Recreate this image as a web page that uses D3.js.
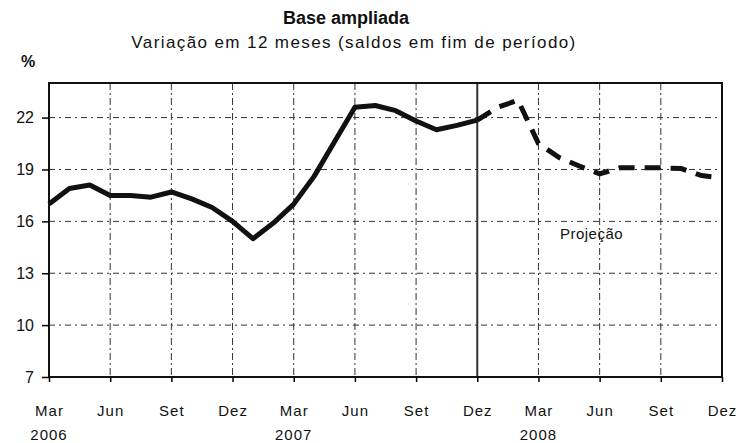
<!DOCTYPE html>
<html>
<head>
<meta charset="utf-8">
<script src="https://cdn.jsdelivr.net/npm/d3@7"></script>
<style>
  body { margin: 0; background: #fff; }
  svg { font-family: "Liberation Sans", Arial, sans-serif; }
</style>
</head>
<body>
<div id="chart"></div>
<script>
// months from Mar 2006 to Dez 2008
var months = ['Mar06','Abr06','Mai06','Jun06','Jul06','Ago06','Set06','Out06','Nov06','Dez06',
  'Jan07','Fev07','Mar07','Abr07','Mai07','Jun07','Jul07','Ago07','Set07','Out07','Nov07','Dez07',
  'Jan08','Fev08','Mar08','Abr08','Mai08','Jun08','Jul08','Ago08','Set08','Out08','Nov08','Dez08']

// realizado (Mar 2006 - Dez 2007)
var realizado = [17.0, 17.9, 18.1, 17.5, 17.5, 17.4, 17.7, 17.3, 16.8, 16.0,
  15.0, 15.9, 17.0, 18.6, 20.6, 22.6, 22.7, 22.4, 21.8, 21.3, 21.55, 21.85]

// projecao (Dez 2007 - Dez 2008)
var projecao = [21.85, 22.6, 23.0, 20.5, 19.7, 19.2, 18.75, 19.1, 19.1, 19.1, 19.05, 18.65, 18.5]

var yTicks = [7, 10, 13, 16, 19, 22]
var xTickLabels = ['Mar','Jun','Set','Dez','Mar','Jun','Set','Dez','Mar','Jun','Set','Dez']
var yearLabels = [{i: 0, t: '2006'}, {i: 12, t: '2007'}, {i: 24, t: '2008'}]

var W = 739, H = 443
var margin = { top: 83, right: 17, bottom: 66, left: 49 }
var w = W - margin.left - margin.right
var h = H - margin.top - margin.bottom

var svg = d3.select('#chart').append('svg')
  .attr('width', W)
  .attr('height', H)

var g = svg.append('g')
  .attr('transform', 'translate(' + margin.left + ',' + margin.top + ')')

var x = d3.scaleLinear().domain([0, months.length - 1]).range([0, w])
var y = d3.scaleLinear().domain([7, 24]).range([h, 0])

var tickIdx = d3.range(0, months.length, 3)

// grid
g.selectAll('.hgrid')
  .data(yTicks.slice(1))
  .enter().append('line')
  .attr('x1', 0).attr('x2', w)
  .attr('y1', function(d) { return y(d) })
  .attr('y2', function(d) { return y(d) })
  .attr('stroke', '#333')
  .attr('stroke-width', 1)
  .attr('stroke-dasharray', '6,4,2,4')

g.selectAll('.vgrid')
  .data(tickIdx.slice(1))
  .enter().append('line')
  .attr('x1', function(d) { return x(d) })
  .attr('x2', function(d) { return x(d) })
  .attr('y1', 0).attr('y2', h)
  .attr('stroke', '#333')
  .attr('stroke-width', function(d) { return d == 21 ? 2 : 1 })
  .attr('stroke-dasharray', function(d) { return d == 21 ? null : '7,3,2,3' })

// frame
g.append('rect')
  .attr('width', w).attr('height', h)
  .attr('fill', 'none')
  .attr('stroke', '#111')
  .attr('stroke-width', 2)

// axes
var yAxis = d3.axisLeft(y).tickValues(yTicks).tickSize(7).tickPadding(8).tickFormat(d3.format('d'))
var ya = g.append('g').call(yAxis)
ya.select('.domain').remove()
ya.selectAll('text').attr('font-size', 16).attr('fill', '#111')
ya.selectAll('line').attr('stroke-width', 1.5)

var xAxis = d3.axisBottom(x).tickValues(tickIdx).tickSize(5)
  .tickFormat(function(d, i) { return xTickLabels[i] })
var xa = g.append('g').attr('transform', 'translate(0,' + h + ')').call(xAxis)
xa.select('.domain').remove()
xa.selectAll('text')
  .attr('font-size', 15)
  .attr('fill', '#111')
  .attr('letter-spacing', 1)
  .attr('y', 39).attr('dy', null)
xa.selectAll('line').attr('stroke-width', 1.5)

g.selectAll('.year')
  .data(yearLabels)
  .enter().append('text')
  .attr('x', function(d) { return x(d.i) })
  .attr('y', h + 63)
  .attr('text-anchor', 'middle')
  .attr('font-size', 15)
  .attr('letter-spacing', 1)
  .attr('fill', '#111')
  .text(function(d) { return d.t })

// lines
var line = d3.line()
  .x(function(d) { return x(d.i) })
  .y(function(d) { return y(d.v) })

g.append('path')
  .datum(realizado.map(function(v, i) { return {i: i, v: v} }))
  .attr('d', line)
  .attr('fill', 'none')
  .attr('stroke', '#111')
  .attr('stroke-width', 5)
  .attr('stroke-linejoin', 'round')

g.append('path')
  .datum(projecao.map(function(v, i) { return {i: i + 21, v: v} }))
  .attr('d', line)
  .attr('fill', 'none')
  .attr('stroke', '#111')
  .attr('stroke-width', 5)
  .attr('stroke-dasharray', '16,10')

g.append('text')
  .attr('x', x(26.6))
  .attr('y', y(15.0))
  .attr('text-anchor', 'middle')
  .attr('font-size', 15)
  .attr('letter-spacing', 0.5)
  .attr('fill', '#111')
  .text('Projeção')

// titles
svg.append('text')
  .attr('x', 346).attr('y', 24)
  .attr('text-anchor', 'middle')
  .attr('font-size', 18)
  .attr('font-weight', 'bold')
  .attr('fill', '#111')
  .text('Base ampliada')

svg.append('text')
  .attr('x', 354).attr('y', 48)
  .attr('text-anchor', 'middle')
  .attr('font-size', 17)
  .attr('letter-spacing', 1.4)
  .attr('fill', '#111')
  .text('Variação em 12 meses (saldos em fim de período)')

svg.append('text')
  .attr('x', 28).attr('y', 67)
  .attr('text-anchor', 'middle')
  .attr('font-size', 16)
  .attr('font-weight', 'bold')
  .attr('fill', '#111')
  .text('%')
</script>
</body>
</html>
